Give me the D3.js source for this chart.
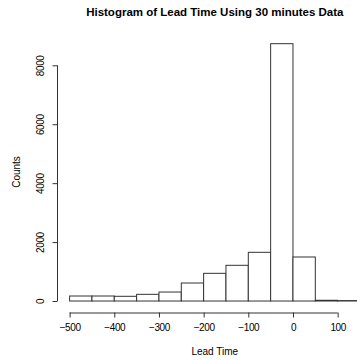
<!DOCTYPE html>
<html><head><meta charset="utf-8">
<script src="https://cdn.jsdelivr.net/npm/d3@7"></script>
<style>body{margin:0;background:#fff}svg{display:block}text{font-family:"Liberation Sans",Arial,sans-serif}</style>
</head><body>
<svg id="c" width="357" height="360"></svg>
<script>
const binStarts = [-500,-450,-400,-350,-300,-250,-200,-150,-100,-50,0,50,100];
const binWidth = 50;
const counts = [170,170,160,227,305,611,940,1212,1653,8734,1494,25,15];
const xTicks = [-500,-400,-300,-200,-100,0,100];
const yTicks = [0,2000,4000,6000,8000];
const title = "Histogram of Lead Time Using 30 minutes Data";
const xLabel = "Lead Time", yLabel = "Counts";

const svg = d3.select("#c");
const x = d3.scaleLinear().domain([-526,176]).range([58,371.6]);
const y = d3.scaleLinear().domain([-349,9083]).range([311.3,33.4]);
const col = "#333";

svg.append("g").selectAll("rect").data(binStarts).join("rect")
  .attr("x", d=>x(d)).attr("width", d=>x(d+binWidth)-x(d))
  .attr("y", (d,i)=>y(counts[i])).attr("height",(d,i)=>y(0)-y(counts[i]))
  .attr("fill","#fff").attr("stroke",col).attr("stroke-width",1);

const xa = svg.append("g").attr("transform","translate(0,312.5)")
  .call(d3.axisBottom(x).tickValues(xTicks).tickSize(5).tickPadding(6).tickFormat(d3.format("d")));
xa.select(".domain").attr("d",`M${x(-500)},0.5H${x(100)}`).attr("stroke",col);
xa.selectAll(".tick line").attr("stroke",col);
xa.selectAll("text").attr("font-size",10).attr("letter-spacing",-0.4).attr("fill","#000").attr("font-family","Liberation Sans, Arial, sans-serif");

const ya = svg.append("g").attr("transform","translate(57.5,0)")
  .call(d3.axisLeft(y).tickValues(yTicks).tickSize(5).tickFormat(d3.format("d")));
ya.select(".domain").attr("d",`M0,${y(0)}V${y(8000)}`).attr("stroke",col);
ya.selectAll(".tick line").attr("stroke",col);
ya.selectAll(".tick text").attr("font-size",10).attr("letter-spacing",-0.4).attr("fill","#000").attr("font-family","Liberation Sans, Arial, sans-serif")
  .attr("x",null).attr("dy",null).attr("text-anchor","middle")
  .attr("transform","translate(-16,0) rotate(-90)").attr("dominant-baseline","middle");

svg.append("text").attr("x",214.8).attr("y",16).attr("text-anchor","middle")
  .attr("font-size",11.5).attr("font-weight","bold").text(title);
svg.append("text").attr("x",214.8).attr("y",355).attr("text-anchor","middle")
  .attr("font-size",10).text(xLabel);
svg.append("text").attr("transform",`translate(20,172) rotate(-90)`).attr("text-anchor","middle")
  .attr("font-size",10).text(yLabel);
</script>
</body></html>
